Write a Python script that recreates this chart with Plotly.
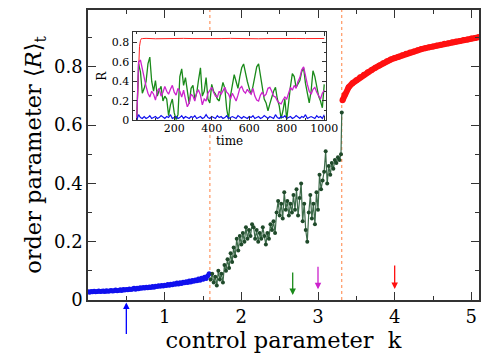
import numpy as np
import plotly.graph_objects as go

# main panel: order parameter vs control parameter k
blue_k = np.round(np.arange(0.0, 1.59, 0.02), 2)
blue_r = [0.028, 0.027, 0.029, 0.028, 0.030, 0.028, 0.029, 0.031, 0.029, 0.030,
          0.031, 0.029, 0.032, 0.030, 0.031, 0.033, 0.031, 0.032, 0.034, 0.032,
          0.033, 0.035, 0.033, 0.036, 0.034, 0.036, 0.035, 0.038, 0.036, 0.038,
          0.040, 0.037, 0.040, 0.039, 0.042, 0.040, 0.043, 0.041, 0.044, 0.042,
          0.045, 0.043, 0.046, 0.044, 0.047, 0.046, 0.049, 0.047, 0.050, 0.048,
          0.051, 0.050, 0.053, 0.051, 0.054, 0.052, 0.056, 0.054, 0.058, 0.055,
          0.059, 0.057, 0.061, 0.059, 0.063, 0.060, 0.065, 0.062, 0.067, 0.064,
          0.069, 0.066, 0.072, 0.068, 0.075, 0.071, 0.078, 0.074, 0.082, 0.090]

green_k = list(np.round(np.arange(1.60, 3.31, 0.02), 2)) + [3.31]
green_r = [0.07, 0.09, 0.06, 0.08, 0.05, 0.10, 0.07, 0.09, 0.06, 0.12,
           0.10, 0.14, 0.11, 0.16, 0.13, 0.18, 0.15, 0.21, 0.17, 0.22,
           0.19, 0.23, 0.20, 0.25, 0.21, 0.24, 0.22, 0.26, 0.25, 0.21,
           0.24, 0.20, 0.23, 0.21, 0.25, 0.22, 0.19, 0.23, 0.21, 0.26,
           0.24, 0.27, 0.23, 0.30, 0.34, 0.29, 0.33, 0.28, 0.37, 0.31,
           0.34, 0.29, 0.33, 0.30, 0.36, 0.31, 0.38, 0.29, 0.35, 0.40,
           0.27, 0.33, 0.24, 0.20, 0.30, 0.36, 0.28, 0.33, 0.26, 0.37,
           0.31, 0.43, 0.38, 0.41, 0.44, 0.51, 0.40, 0.46, 0.43, 0.47,
           0.45, 0.48, 0.47, 0.49, 0.48, 0.50, 0.643]

red_k = [3.32, 3.35, 3.40, 3.45, 3.50, 3.55, 3.60, 3.65, 3.70, 3.75,
         3.80, 3.85, 3.90, 3.95, 4.00, 4.05, 4.10, 4.15, 4.20, 4.25,
         4.30, 4.35, 4.40, 4.45, 4.50, 4.55, 4.60, 4.65, 4.70, 4.75,
         4.80, 4.85, 4.90, 4.95, 5.00, 5.05, 5.10]
red_r = [0.685, 0.705, 0.730, 0.744, 0.754, 0.764, 0.773, 0.781, 0.789, 0.797,
         0.805, 0.812, 0.819, 0.825, 0.830, 0.835, 0.840, 0.845, 0.849, 0.853,
         0.857, 0.861, 0.864, 0.867, 0.870, 0.873, 0.876, 0.879, 0.881, 0.884,
         0.887, 0.889, 0.892, 0.894, 0.897, 0.899, 0.902]

transitions = [1.59, 3.31]
# arrows marking the k values of the inset series (tip in plot fraction, length in px)
arrow_k = [0.5, 2.67, 3.0, 4.0]
arrow_tip = [-0.009, 0.017, 0.037, 0.038]
arrow_len = [33, -24, -24, -25]
arrow_col = ["#0000ff", "#1a8a1a", "#cc22cc", "#ff1010"]

# inset: R(t) time series
t10 = list(range(0, 1001, 10))
ts_green = [0.00, 0.58, 0.50, 0.28, 0.33, 0.40, 0.58, 0.65, 0.40, 0.30,
            0.41, 0.25, 0.31, 0.35, 0.20, 0.25, 0.22, 0.05, 0.16, 0.22,
            0.08, 0.01, 0.06, 0.45, 0.53, 0.36, 0.44, 0.30, 0.17, 0.33,
            0.36, 0.22, 0.28, 0.42, 0.54, 0.25, 0.30, 0.44, 0.22, 0.18,
            0.37, 0.30, 0.27, 0.22, 0.20, 0.30, 0.39, 0.33, 0.12, 0.01,
            0.25, 0.36, 0.47, 0.40, 0.33, 0.45, 0.54, 0.58, 0.47, 0.40,
            0.33, 0.27, 0.35, 0.47, 0.55, 0.58, 0.45, 0.33, 0.22, 0.18,
            0.10, 0.17, 0.24, 0.30, 0.34, 0.22, 0.15, 0.02, 0.10, 0.22,
            0.01, 0.20, 0.35, 0.48, 0.45, 0.34, 0.37, 0.41, 0.50, 0.54,
            0.38, 0.26, 0.18, 0.30, 0.51, 0.45, 0.33, 0.25, 0.20, 0.13, 0.37]
ts_magenta = [0.00, 0.60, 0.62, 0.52, 0.42, 0.35, 0.28, 0.24, 0.30, 0.27,
              0.21, 0.30, 0.33, 0.25, 0.29, 0.35, 0.30, 0.27, 0.32, 0.36,
              0.29, 0.26, 0.33, 0.30, 0.24, 0.31, 0.22, 0.14, 0.18, 0.27,
              0.25, 0.20, 0.29, 0.31, 0.26, 0.16, 0.22, 0.20, 0.28, 0.31,
              0.34, 0.29, 0.25, 0.24, 0.30, 0.27, 0.31, 0.34, 0.29, 0.27,
              0.22, 0.28, 0.24, 0.20, 0.26, 0.33, 0.35, 0.30, 0.28, 0.32,
              0.29, 0.27, 0.33, 0.25, 0.21, 0.20, 0.26, 0.29, 0.25, 0.27,
              0.33, 0.34, 0.30, 0.25, 0.24, 0.20, 0.18, 0.17, 0.21, 0.24,
              0.22, 0.28, 0.34, 0.31, 0.36, 0.33, 0.40, 0.44, 0.52, 0.55,
              0.45, 0.37, 0.30, 0.27, 0.32, 0.34, 0.29, 0.25, 0.22, 0.28, 0.31]
ts_blue = [0.00, 0.06, 0.03, 0.02, 0.04, 0.02, 0.03, 0.05, 0.02, 0.03,
           0.04, 0.02, 0.03, 0.05, 0.03, 0.02, 0.04, 0.03, 0.06, 0.02,
           0.03, 0.04, 0.02, 0.03, 0.05, 0.02, 0.04, 0.03, 0.02, 0.04,
           0.03, 0.05, 0.02, 0.03, 0.04, 0.02, 0.03, 0.06, 0.03, 0.02,
           0.04, 0.03, 0.02, 0.05, 0.03, 0.04, 0.02, 0.03, 0.05, 0.02,
           0.03, 0.04, 0.03, 0.02, 0.05, 0.03, 0.02, 0.04, 0.03, 0.02,
           0.04, 0.03, 0.05, 0.02, 0.03, 0.04, 0.02, 0.03, 0.05, 0.03,
           0.02, 0.04, 0.03, 0.02, 0.06, 0.03, 0.02, 0.04, 0.03, 0.05,
           0.02, 0.03, 0.04, 0.02, 0.03, 0.05, 0.03, 0.02, 0.04, 0.03,
           0.06, 0.02, 0.03, 0.04, 0.03, 0.02, 0.05, 0.03, 0.04, 0.02, 0.06]
ts_red_t = [0, 5, 10, 15, 20, 25, 30, 50, 100, 150, 200, 250, 300, 350, 400,
            450, 500, 550, 600, 650, 700, 750, 800, 850, 900, 950, 1000]
ts_red = [0.00, 0.30, 0.60, 0.76, 0.82, 0.84, 0.84, 0.842, 0.838, 0.841, 0.839,
          0.842, 0.840, 0.838, 0.841, 0.840, 0.842, 0.839, 0.841, 0.838, 0.840,
          0.842, 0.839, 0.841, 0.840, 0.838, 0.841]

FONT = "DejaVu Serif"
AXCOL = "#333333"
INSET_X = [0.114, 0.608]
INSET_Y = [0.619, 0.925]

fig = go.Figure()
fig.add_trace(go.Scatter(x=blue_k, y=blue_r, mode="lines+markers",
                         line=dict(color="#1010ee", width=3),
                         marker=dict(color="#1010ee", size=5)))
fig.add_trace(go.Scatter(x=green_k, y=green_r, mode="lines+markers",
                         line=dict(color="#3d6b4a", width=1.2),
                         marker=dict(color="#1f4a2a", size=4)))
fig.add_trace(go.Scatter(x=red_k, y=red_r, mode="lines+markers",
                         line=dict(color="#ff1010", width=6),
                         marker=dict(color="#ff1010", size=6)))

fig.add_trace(go.Scatter(x=ts_red_t, y=ts_red, xaxis="x2", yaxis="y2", mode="lines",
                         line=dict(color="#ff2020", width=1)))
fig.add_trace(go.Scatter(x=t10, y=ts_green, xaxis="x2", yaxis="y2", mode="lines",
                         line=dict(color="#1a8a1a", width=1.3)))
fig.add_trace(go.Scatter(x=t10, y=ts_magenta, xaxis="x2", yaxis="y2", mode="lines",
                         line=dict(color="#cc22cc", width=1.3)))
fig.add_trace(go.Scatter(x=t10, y=ts_blue, xaxis="x2", yaxis="y2", mode="lines",
                         line=dict(color="#1010ee", width=1.2)))

shapes = []
for k in transitions:
    shapes.append(dict(type="line", xref="x", yref="paper", x0=k, x1=k, y0=0, y1=1,
                       line=dict(color="#ff8040", width=1, dash="dot"), layer="below"))
# white background behind the inset hides the dotted line
shapes.append(dict(type="rect", xref="paper", yref="paper", x0=INSET_X[0], x1=INSET_X[1],
                   y0=INSET_Y[0], y1=INSET_Y[1], fillcolor="white", line=dict(width=0),
                   layer="below"))

annotations = []
for k, tip, ln, col in zip(arrow_k, arrow_tip, arrow_len, arrow_col):
    annotations.append(dict(x=k, y=tip, xref="x", yref="paper",
                            ax=0, ay=ln, axref="pixel", ayref="pixel",
                            text="", showarrow=True, arrowhead=2, arrowsize=1,
                            arrowwidth=1.3, arrowcolor=col))
annotations.append(dict(x=sum(INSET_X) / 2, y=0.549, xref="paper", yref="paper",
                        text="time", showarrow=False, font=dict(size=12),
                        xanchor="center", yanchor="middle"))

# page body has an 8px margin, so the figure is 8px smaller and margins shifted
fig.update_layout(
    width=483, height=351,
    margin=dict(l=80, r=0, t=1, b=59),
    plot_bgcolor="white", paper_bgcolor="white",
    showlegend=False,
    font=dict(family=FONT, color="black"),
    shapes=shapes, annotations=annotations,
    xaxis=dict(range=[0, 5.1], tickvals=[1, 2, 3, 4, 5], ticks="inside", ticklen=8,
               tickwidth=1.2, tickcolor=AXCOL,
               minor=dict(tickmode="linear", tick0=0, dtick=0.5, ticklen=4,
                          ticks="inside", tickcolor=AXCOL),
               showline=True, linecolor=AXCOL, linewidth=1.5, mirror="allticks",
               showgrid=False, zeroline=False, tickfont=dict(size=18),
               title=dict(text="control parameter  k", font=dict(size=22.5), standoff=1)),
    yaxis=dict(range=[0, 0.995], tickvals=[0, 0.2, 0.4, 0.6, 0.8], ticks="inside",
               ticklen=8, tickwidth=1.2, tickcolor=AXCOL,
               minor=dict(tickmode="linear", tick0=0, dtick=0.1, ticklen=4,
                          ticks="inside", tickcolor=AXCOL),
               showline=True, linecolor=AXCOL, linewidth=1.5, mirror="allticks",
               showgrid=False, zeroline=False, tickfont=dict(size=18),
               title=dict(text="order parameter ⟨<i>R</i>⟩<sub>t</sub>",
                          font=dict(size=22.5), standoff=6)),
    xaxis2=dict(domain=INSET_X, anchor="y2", range=[-22, 1008],
                tickvals=[200, 400, 600, 800, 1000], ticks="inside", ticklen=4,
                tickcolor=AXCOL, ticklabelstandoff=-3,
                minor=dict(tickmode="linear", tick0=0, dtick=100, ticklen=2,
                           ticks="inside", tickcolor=AXCOL),
                showline=True, linecolor=AXCOL, linewidth=1, mirror="allticks",
                showgrid=False, zeroline=False, tickfont=dict(size=11)),
    yaxis2=dict(domain=INSET_Y, anchor="x2", range=[0, 0.91],
                tickvals=[0, 0.2, 0.4, 0.6, 0.8], ticks="inside", ticklen=4,
                tickcolor=AXCOL,
                minor=dict(tickmode="linear", tick0=0, dtick=0.1, ticklen=2,
                           ticks="inside", tickcolor=AXCOL),
                showline=True, linecolor=AXCOL, linewidth=1, mirror="allticks",
                showgrid=False, zeroline=False, tickfont=dict(size=11),
                title=dict(text="R", font=dict(size=12), standoff=2)),
)

fig.write_html("out.html")
